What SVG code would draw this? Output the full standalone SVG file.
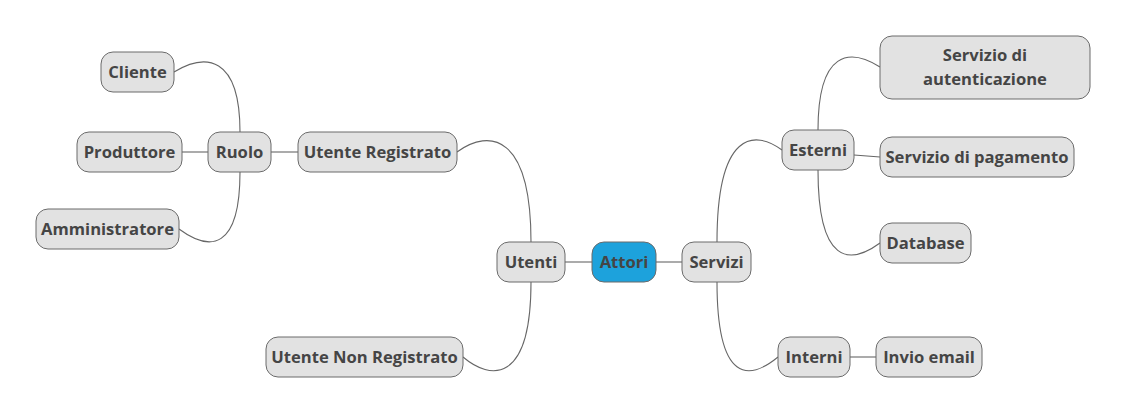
<svg xmlns="http://www.w3.org/2000/svg" width="1128" height="415" viewBox="0 0 1128 415">
<style>
.n rect{fill:#e2e2e2;stroke:#6b6b6b;stroke-width:1}
.n text{font-family:"Open Sans","Noto Sans",sans-serif;font-weight:bold;font-size:16.6px;fill:#454545;text-anchor:middle;dominant-baseline:central}
#attori rect{fill:#1da2dc}
#links path{fill:none;stroke:#666666;stroke-width:1.1}
</style>
<rect width="1128" height="415" fill="#ffffff"/>
<g id="links">
<path d="M565,262 H592"/>
<path d="M656,262 H682"/>
<path d="M457,152 C490,128 531,135 531,242"/>
<path d="M463,357 C490,380 531,385 531,282"/>
<path d="M271,152 H298"/>
<path d="M182,152 H208"/>
<path d="M174,72 C205,53 240,55 240,132"/>
<path d="M179,229 C210,252 240,250 240,172"/>
<path d="M782,150 C755,130 717,130 717,242"/>
<path d="M778,357 C750,380 717,385 717,282"/>
<path d="M880,67 C850,48 818,50 818,130"/>
<path d="M854,155 L880,157"/>
<path d="M880,243 C850,265 818,265 818,170"/>
<path d="M850,357 H876"/>
</g>
<g id="attori" class="n"><rect x="592" y="242" width="64" height="40" rx="12"/><text x="624" y="261">Attori</text></g>
<g id="utenti" class="n"><rect x="497" y="242" width="68" height="40" rx="12"/><text x="531" y="261">Utenti</text></g>
<g id="servizi" class="n"><rect x="682" y="242" width="69" height="40" rx="12"/><text x="716.5" y="261">Servizi</text></g>
<g id="utente-registrato" class="n"><rect x="298" y="132" width="159" height="40" rx="12"/><text x="377.5" y="151">Utente Registrato</text></g>
<g id="utente-non-registrato" class="n"><rect x="266" y="337" width="197" height="40" rx="12"/><text x="364.5" y="356">Utente Non Registrato</text></g>
<g id="ruolo" class="n"><rect x="208" y="132" width="63" height="40" rx="12"/><text x="239.5" y="151">Ruolo</text></g>
<g id="cliente" class="n"><rect x="101" y="52" width="73" height="40" rx="12"/><text x="137.5" y="71">Cliente</text></g>
<g id="produttore" class="n"><rect x="77" y="132" width="105" height="40" rx="12"/><text x="129.5" y="151">Produttore</text></g>
<g id="amministratore" class="n"><rect x="36" y="209" width="143" height="40" rx="12"/><text x="107.5" y="228">Amministratore</text></g>
<g id="esterni" class="n"><rect x="782" y="130" width="72" height="40" rx="12"/><text x="818" y="149">Esterni</text></g>
<g id="servizio-autenticazione" class="n"><rect x="880" y="36" width="210" height="63" rx="12"/><text x="985" y="54">Servizio di</text><text x="985" y="78">autenticazione</text></g>
<g id="servizio-pagamento" class="n"><rect x="880" y="137" width="194" height="40" rx="12"/><text x="977" y="156">Servizio di pagamento</text></g>
<g id="database" class="n"><rect x="880" y="223" width="91" height="40" rx="12"/><text x="925.5" y="242">Database</text></g>
<g id="interni" class="n"><rect x="778" y="337" width="72" height="40" rx="12"/><text x="814" y="356">Interni</text></g>
<g id="invio-email" class="n"><rect x="876" y="337" width="106" height="40" rx="12"/><text x="929" y="356">Invio email</text></g>
</svg>
